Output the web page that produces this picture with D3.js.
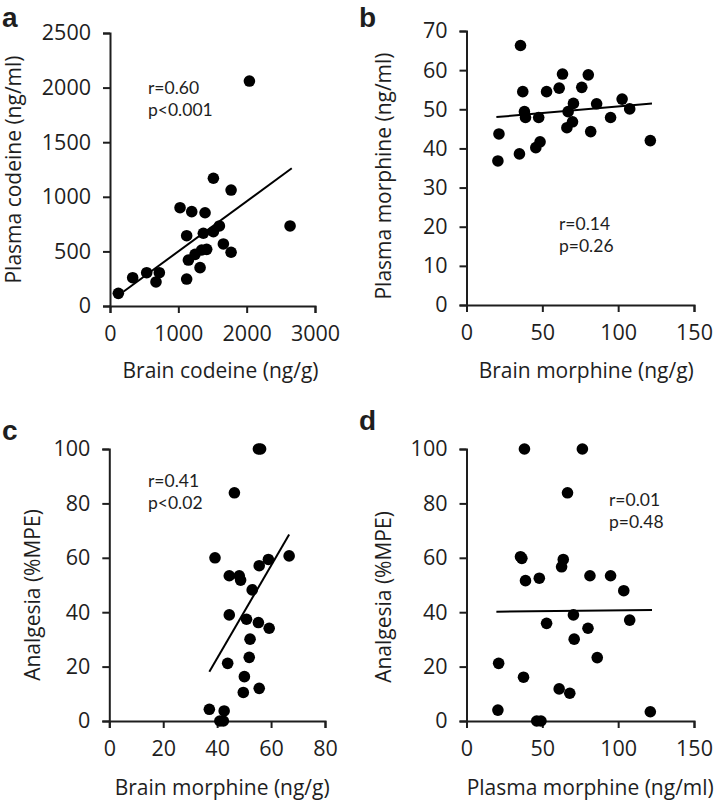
<!DOCTYPE html>
<html><head><meta charset="utf-8">
<script src="https://cdn.jsdelivr.net/npm/d3@7"></script>
<style>
html,body{margin:0;padding:0;background:#fff;}
svg text{font-family:"Open Sans",Lato,sans-serif;fill:#1e1e1e;}
</style></head>
<body><svg id="c" width="716" height="804"></svg>
<script>
// Panel a: brain codeine (ng/g) vs plasma codeine (ng/ml)
const aBrainCodeine  = [122,332,537,722,673,1025,1196,1391,1513,1772,1122,2635,2040,1147,1245,1342,1415,1318,1122,1366,1513,1601,1659,1772];
const aPlasmaCodeine = [116,259,305,305,220,900,864,854,1170,1062,644,733,2060,421,473,513,519,351,247,666,680,733,568,492];
const aTrend = [[195,131],[2660,1261]];
const aStats = ["r=0.60","p<0.001"];
const aXTicks = [0,1000,2000,3000];
const aYTicks = [0,500,1000,1500,2000,2500];

// Panel b: brain morphine (ng/g) vs plasma morphine (ng/ml)
const bBrainMorphine  = [20.7,21.4,35.6,34.9,37.1,38.2,38.9,47.6,45.7,48.5,52.8,61.1,63.3,67.0,66.2,69.9,70.5,76.0,80.3,81.9,85.8,95.0,102.6,107.6,121.2];
const bPlasmaMorphine = [36.8,43.7,66.3,38.6,54.5,49.4,47.9,47.9,40.2,41.7,54.5,55.4,59.0,49.4,45.3,46.8,51.5,55.6,58.8,44.3,51.4,47.9,52.6,50.1,42.0];
const bTrend = [[19.7,48.0],[122.3,51.5]];
const bStats = ["r=0.14","p=0.26"];
const bXTicks = [0,50,100,150];
const bYTicks = [0,10,20,30,40,50,60,70];

// Panel c: brain morphine (ng/g) vs analgesia (%MPE)
const cBrainMorphine = [55.3,56.1,46.4,39.2,44.5,48.2,48.7,53.0,55.6,59.0,66.7,44.5,50.9,55.3,59.3,52.2,51.9,43.9,50.1,49.7,55.6,37.1,42.6,41.0,42.3];
const cAnalgesia     = [100,100,83.9,60.0,53.4,53.4,51.8,48.2,57.1,59.4,60.7,39.0,37.4,36.2,34.1,30.1,23.4,21.2,16.3,10.5,12.0,4.3,3.7,0,0];
const cTrend = [[37.1,18.1],[66.7,68.6]];
const cStats = ["r=0.41","p<0.02"];
const cXTicks = [0,20,40,60,80];
const cYTicks = [0,20,40,60,80,100];

// Panel d: plasma morphine (ng/ml) vs analgesia (%MPE)
const dPlasmaMorphine = [38.2,76.4,66.6,35.6,36.5,38.9,48.0,63.8,62.7,81.4,95.0,103.7,52.8,70.5,71.0,80.1,86.2,107.6,21.2,37.6,61.1,68.1,20.7,121.2,46.3,49.1];
const dAnalgesia      = [100,100,83.9,60.4,59.8,51.6,52.5,59.4,56.7,53.4,53.4,47.9,35.9,39.0,30.1,34.1,23.3,37.1,21.2,16.1,11.8,10.2,4.0,3.4,0,0];
const dTrend = [[19.7,40.2],[122.3,40.8]];
const dStats = ["r=0.01","p=0.48"];
const dXTicks = [0,50,100,150];
const dYTicks = [0,20,40,60,80,100];

const svg = d3.select("#c");
const TICK_FS = 21.5, TITLE_FS = 21, STAT_FS = 17.5;

function panel(o){
  const g = svg.append("g");
  const x = d3.scaleLinear().domain(o.xd).range(o.xr);
  const y = d3.scaleLinear().domain(o.yd).range(o.yr);
  const ax = g.append("g").attr("transform",`translate(0,${o.yr[0]})`)
    .call(d3.axisBottom(x).tickValues(o.xt).tickSizeOuter(0).tickSize(7).tickPadding(13).tickFormat(d3.format("d")));
  const ay = g.append("g").attr("transform",`translate(${o.xr[0]},0)`)
    .call(d3.axisLeft(y).tickValues(o.yt).tickSizeOuter(0).tickSize(7).tickPadding(12).tickFormat(d3.format("d")));
  [ax,ay].forEach(a=>{
    a.select(".domain").attr("stroke","#1e1e1e").attr("stroke-width",2);
    a.selectAll(".tick line").attr("stroke","#1e1e1e").attr("stroke-width",2);
    a.selectAll(".tick text").attr("font-size",TICK_FS).attr("fill","#1e1e1e");
  });
  g.append("line")
    .attr("x1",x(o.trend[0][0])).attr("y1",y(o.trend[0][1]))
    .attr("x2",x(o.trend[1][0])).attr("y2",y(o.trend[1][1]))
    .attr("stroke","#000").attr("stroke-width",2);
  g.selectAll("circle").data(o.xs.map((v,i)=>[v,o.ys[i]])).enter().append("circle")
    .attr("cx",d=>x(d[0])).attr("cy",d=>y(d[1])).attr("r",5.8).attr("fill","#000");
  g.append("text").attr("x",(o.xr[0]+o.xr[1])/2+o.xtOff).attr("y",o.xtY).attr("text-anchor","middle")
    .attr("font-size",TITLE_FS).text(o.xTitle);
  g.append("text").attr("transform",`translate(${o.ytX},${(o.yr[0]+o.yr[1])/2+o.ytOff}) rotate(-90)`)
    .attr("text-anchor","middle").attr("font-size",TITLE_FS).text(o.yTitle);
  o.stats.forEach((s,i)=>{
    g.append("text").attr("x",o.sx).attr("y",o.sy+i*21.5).attr("font-size",STAT_FS)
      .style("font-family","Lato,sans-serif").text(s);
  });
  g.append("text").attr("x",o.lx).attr("y",o.ly).attr("font-size",28).attr("font-weight","bold")
    .style("font-family","'Liberation Sans',Arial,sans-serif").text(o.label);
}

panel({xs:aBrainCodeine,ys:aPlasmaCodeine,trend:aTrend,stats:aStats,xt:aXTicks,yt:aYTicks,
  xd:[0,3000],xr:[110,315],yd:[0,2500],yr:[306,33],
  xTitle:"Brain codeine (ng/g)",yTitle:"Plasma codeine (ng/ml)",
  xtY:378,xtOff:8,ytX:21,ytOff:0,sx:148,sy:94,label:"a",lx:2,ly:27});
panel({xs:bBrainMorphine,ys:bPlasmaMorphine,trend:bTrend,stats:bStats,xt:bXTicks,yt:bYTicks,
  xd:[0,150],xr:[466.5,694],yd:[0,70],yr:[305,31],
  xTitle:"Brain morphine (ng/g)",yTitle:"Plasma morphine (ng/ml)",
  xtY:378,xtOff:6,ytX:391,ytOff:8,sx:559,sy:230,label:"b",lx:359,ly:27});
panel({xs:cBrainMorphine,ys:cAnalgesia,trend:cTrend,stats:cStats,xt:cXTicks,yt:cYTicks,
  xd:[0,80],xr:[109.3,325],yd:[0,100],yr:[721,449],
  xTitle:"Brain morphine (ng/g)",yTitle:"Analgesia (%MPE)",
  xtY:795,xtOff:5,ytX:40,ytOff:10,sx:148,sy:487,label:"c",lx:2,ly:440});
panel({xs:dPlasmaMorphine,ys:dAnalgesia,trend:dTrend,stats:dStats,xt:dXTicks,yt:dYTicks,
  xd:[0,150],xr:[466.5,694],yd:[0,100],yr:[721,449],
  xTitle:"Plasma morphine (ng/ml)",yTitle:"Analgesia (%MPE)",
  xtY:795,xtOff:10,ytX:391,ytOff:12,sx:609,sy:506,label:"d",lx:359,ly:430});
</script></body></html>
